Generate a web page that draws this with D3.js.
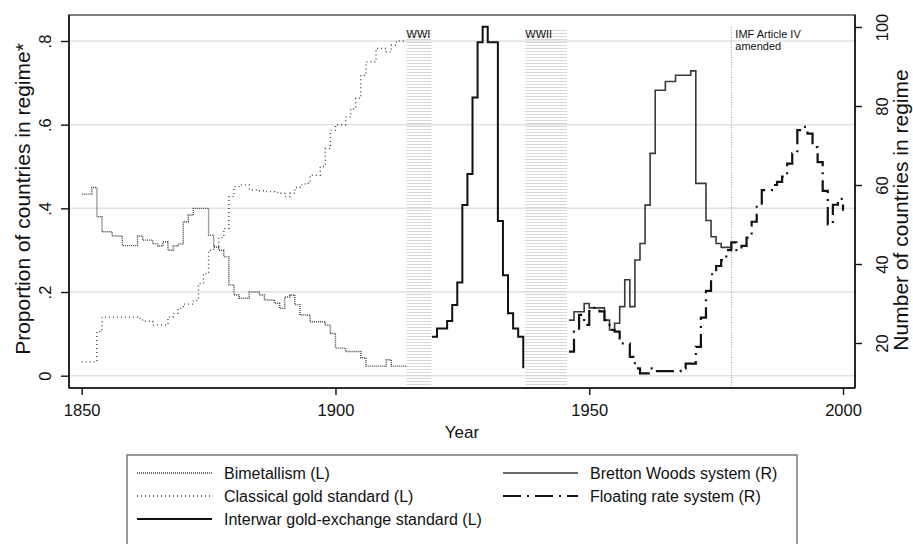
<!DOCTYPE html>
<html>
<head>
<meta charset="utf-8">
<script src="https://cdn.jsdelivr.net/npm/d3@7"></script>
<style>
    body { margin: 0; background: #fff; }
    svg text { font-family: "Liberation Sans", Arial, sans-serif; fill: #111; }
</style>
</head>
<body>
<svg id="drawingSpace" width="913" height="544"></svg>
<script>
//series values (one value per year)
var bimYears = d3.range(1850, 1915),
    bimetallism = [.434, .434, .45, .38, .344, .344, .334, .334, .311, .311,
        .311, .334, .324, .324, .315, .31, .32, .30, .31, .315,
        .368, .384, .40, .40, .40, .336, .307, .30, .284, .217,
        .193, .185, .185, .20, .20, .193, .181, .181, .173, .161,
        .188, .193, .17, .145, .145, .129, .129, .129, .121, .101,
        .066, .066, .058, .058, .058, .043, .023, .023, .023, .023,
        .038, .023, .023, .023, .023];

var goldYears = d3.range(1850, 1915),
    classicalGold = [.033, .033, .033, .106, .14, .14, .14, .14, .14, .14,
        .14, .137, .13, .13, .121, .121, .121, .14, .149, .161,
        .171, .171, .18, .22, .244, .30, .31, .33, .352, .428,
        .452, .456, .456, .444, .444, .442, .44, .44, .438, .436,
        .428, .436, .45, .456, .46, .479, .479, .5, .543, .587,
        .60, .60, .618, .638, .663, .718, .75, .75, .782, .782,
        .774, .79, .80, .80, .80];

var interwarYears = d3.range(1919, 1938),
    interwar = [.093, .113, .113, .131, .169, .223, .408, .482, .665, .797,
        .834, .797, .797, .37, .24, .149, .113, .093, .018];

var bwYears = d3.range(1946, 1979),
    brettonWoods = [25.8, 27.9, 27.9, 30, 28.9, 28.9, 28.9, 25.8, 23.3, 25,
        29.2, 36, 29.2, 41, 45.2, 54.9, 68, 84, 84, 86.2,
        86.2, 87.8, 87.8, 87.8, 88.9, 60.4, 60.4, 51, 46.9, 45.2,
        44.2, 44.2, 45];

var floatYears = d3.range(1946, 2001),
    floating = [17.8, 22.9, 27.1, 24.6, 28.1, 28.9, 28, 25.8, 23.3, 22.9,
        19.9, 19.9, 16.5, 13.6, 12.3, 12.3, 13.6, 12.9, 12.9, 12.9,
        12.9, 12.9, 13.6, 14.8, 14.8, 19, 26.4, 33.2, 37.4, 39.5,
        41, 43.5, 45.5, 43.5, 44.6, 46.7, 50.7, 54.5, 58.7, 58.7,
        60, 60.8, 62.1, 65.4, 68, 73.9, 74.7, 73, 69.6, 65.8,
        58.5, 50, 55, 56.5, 53.5];

//ticks and annotations
var xTicks = [1850, 1900, 1950, 2000],
    leftTicks = [0, .2, .4, .6, .8],
    leftTickLabels = ["0", ".2", ".4", ".6", ".8"],
    rightTicks = [20, 40, 60, 80, 100];

var warLabels = ["WWI", "WWII"],
    warStart = [1914, 1937.4],
    warEnd = [1918.9, 1945.6],
    imfYear = 1978,
    imfLabel = ["IMF Article IV", "amended"];

var legendLabels = ["Bimetallism (L)", "Classical gold standard (L)", "Interwar gold-exchange standard (L)",
    "Bretton Woods system (R)", "Floating rate system (R)"];

//drawing space
var svg = d3.select("#drawingSpace"),
    plot = {left: 69, right: 855, top: 15, bottom: 388};

var x = d3.scaleLinear().domain([1850, 2000]).range([81.7, 843]),
    yL = d3.scaleLinear().domain([0, .8]).range([375.7, 41]),
    yR = d3.scaleLinear().domain([20, 100]).range([343, 27]);

//line styles, same order as the legend
var styles = [
    {stroke: "#444", width: 1.4, dash: "1,1"},
    {stroke: "#444", width: 1.4, dash: "1,3"},
    {stroke: "#111", width: 2, dash: null},
    {stroke: "#3a3a3a", width: 1.6, dash: null},
    {stroke: "#111", width: 2.2, dash: "18,6,2,6"}
];

//hatch pattern for the war periods
var defs = svg.append("defs");
defs.append("pattern")
    .attr("id", "hatch")
    .attr("patternUnits", "userSpaceOnUse")
    .attr("width", 6).attr("height", 3)
    .append("rect")
    .attr("width", 6).attr("height", 1)
    .attr("fill", "#d6d6d6");

//gridlines
svg.append("g").selectAll("line")
    .data(leftTicks)
    .join("line")
    .attr("x1", plot.left).attr("x2", plot.right)
    .attr("y1", d => yL(d)).attr("y2", d => yL(d))
    .attr("stroke", "#e2e2e2")
    .attr("stroke-width", 1.5);

//war shading
var wars = svg.append("g");
warLabels.forEach(function (label, i) {
    wars.append("rect")
        .attr("x", x(warStart[i]))
        .attr("y", yR(100) + 1)
        .attr("width", x(warEnd[i]) - x(warStart[i]))
        .attr("height", plot.bottom - yR(100) - 1)
        .attr("fill", "url(#hatch)");
    wars.append("text")
        .attr("x", x(warStart[i]))
        .attr("y", 38)
        .attr("font-size", 11)
        .text(label);
});

//IMF line
svg.append("line")
    .attr("x1", x(imfYear)).attr("x2", x(imfYear))
    .attr("y1", yR(100)).attr("y2", plot.bottom)
    .attr("stroke", "#999")
    .attr("stroke-width", 1)
    .attr("stroke-dasharray", "1,1.5");

svg.append("text")
    .attr("font-size", 11)
    .selectAll("tspan")
    .data(imfLabel)
    .join("tspan")
    .attr("x", x(imfYear) + 4)
    .attr("y", (d, i) => 38 + i * 11.5)
    .text(d => d);

//series
function drawSeries(years, values, y, style) {
    var line = d3.line()
        .x(function (d, i) { return x(years[i]); })
        .y(function (d) { return y(d); })
        .curve(d3.curveStepAfter);
    svg.append("path")
        .datum(values)
        .attr("d", line)
        .attr("fill", "none")
        .attr("stroke", style.stroke)
        .attr("stroke-width", style.width)
        .attr("stroke-dasharray", style.dash);
}

drawSeries(bimYears, bimetallism, yL, styles[0]);
drawSeries(goldYears, classicalGold, yL, styles[1]);
drawSeries(interwarYears, interwar, yL, styles[2]);
drawSeries(bwYears, brettonWoods, yR, styles[3]);
drawSeries(floatYears, floating, yR, styles[4]);

//plot frame
svg.append("rect")
    .attr("x", plot.left).attr("y", plot.top)
    .attr("width", plot.right - plot.left)
    .attr("height", plot.bottom - plot.top)
    .attr("fill", "none")
    .attr("stroke", "#555")
    .attr("stroke-width", 1.5);

//axes
var xAxis = svg.append("g")
    .attr("transform", "translate(0," + plot.bottom + ")")
    .call(d3.axisBottom(x).tickValues(xTicks).tickSize(7).tickSizeOuter(0).tickFormat(d3.format("d")));
xAxis.select(".domain").attr("d", "M" + plot.left + ",0H" + plot.right).attr("stroke", "#111").attr("stroke-width", 1.6);
xAxis.selectAll(".tick line").attr("stroke", "#111").attr("stroke-width", 1.4);
xAxis.selectAll(".tick text").attr("y", 28).attr("dy", 0).attr("font-size", 16.5).attr("fill", "#111");

var leftAxis = svg.append("g")
    .attr("transform", "translate(" + plot.left + ",0)")
    .call(d3.axisLeft(yL).tickValues(leftTicks).tickSize(8).tickSizeOuter(0)
        .tickFormat(function (d, i) { return leftTickLabels[i]; }));
leftAxis.select(".domain").attr("d", "M0," + plot.top + "V" + plot.bottom).attr("stroke", "#111").attr("stroke-width", 1.6);
leftAxis.selectAll(".tick line").attr("stroke", "#111").attr("stroke-width", 1.4);
leftAxis.selectAll(".tick text")
    .attr("transform", "rotate(-90)")
    .attr("x", 0).attr("y", -18).attr("dy", 0)
    .attr("text-anchor", "middle")
    .attr("font-size", 16.5).attr("fill", "#111");

var rightAxis = svg.append("g")
    .attr("transform", "translate(" + plot.right + ",0)")
    .call(d3.axisRight(yR).tickValues(rightTicks).tickSize(7).tickSizeOuter(0).tickFormat(d3.format("d")));
rightAxis.select(".domain").attr("d", "M0," + plot.top + "V" + plot.bottom).attr("stroke", "#111").attr("stroke-width", 1.6);
rightAxis.selectAll(".tick line").attr("stroke", "#111").attr("stroke-width", 1.4);
rightAxis.selectAll(".tick text")
    .attr("transform", "rotate(-90)")
    .attr("x", 0).attr("y", 33).attr("dy", 0)
    .attr("text-anchor", "middle")
    .attr("font-size", 16.5).attr("fill", "#111");

//axis titles
svg.append("text")
    .attr("transform", "translate(30,199) rotate(-90)")
    .attr("text-anchor", "middle")
    .attr("font-size", 21)
    .text("Proportion of countries in regime*");

svg.append("text")
    .attr("transform", "translate(908,210) rotate(-90)")
    .attr("text-anchor", "middle")
    .attr("font-size", 21)
    .text("Number of countries in regime");

svg.append("text")
    .attr("x", (plot.left + plot.right) / 2)
    .attr("y", 438)
    .attr("text-anchor", "middle")
    .attr("font-size", 17)
    .text("Year");

//legend
var legend = svg.append("g");
legend.append("rect")
    .attr("x", 127).attr("y", 455)
    .attr("width", 670).attr("height", 120)
    .attr("fill", "#fff")
    .attr("stroke", "#777")
    .attr("stroke-width", 1.5);

var legendPos = [[137, 473], [137, 496], [137, 519], [503, 473], [503, 496]];
legendLabels.forEach(function (label, i) {
    var p = legendPos[i], s = styles[i];
    legend.append("line")
        .attr("x1", p[0]).attr("x2", p[0] + 75)
        .attr("y1", p[1]).attr("y2", p[1])
        .attr("stroke", s.stroke)
        .attr("stroke-width", s.width)
        .attr("stroke-dasharray", s.dash);
    legend.append("text")
        .attr("x", p[0] + 87)
        .attr("y", p[1])
        .attr("dy", "0.36em")
        .attr("font-size", 16)
        .text(label);
});
</script>
</body>
</html>
